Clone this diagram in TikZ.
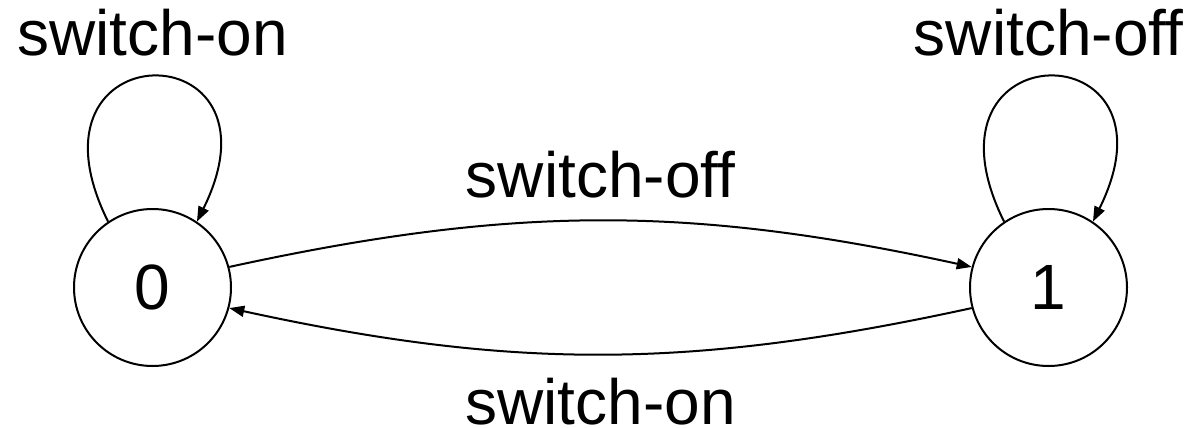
\documentclass[tikz,border=0pt]{standalone}
\usepackage{fontspec}
\setmainfont{Liberation Sans}
\usetikzlibrary{arrows.meta}
\begin{document}
\begin{tikzpicture}[x=0.5pt,y=-0.5pt,
  state/.style={draw,circle,line width=1pt,minimum size=78.5pt,inner sep=0pt,font=\fontsize{32}{38}\selectfont},
  lbl/.style={anchor=base,inner sep=0pt,font=\fontsize{32}{38}\selectfont},
  edge/.style={line width=1pt,-{Triangle[length=7.5pt,width=5.5pt]}}]
\useasboundingbox (0,0) rectangle (1189,428);
\node[state] (n0) at (152.5,287.5) {0};
\node[state] (n1) at (1048.5,287.5) {1};
\draw[edge] (n0.124) .. controls +(-95.6,-192.7) and +(95.6,-192.7) .. (n0.56);
\draw[edge] (n1.124) .. controls +(-95.6,-192.7) and +(95.6,-192.7) .. (n1.56);
\draw[edge] (n0.15) to[bend left=12.3] (n1.165);
\draw[edge] (n1.195) to[bend left=12.3] (n0.345);
\node[lbl] (l0) at (152.5,55) {switch-on};
\node[lbl] (l1) at (1048.5,55) {switch-off};
\node[lbl] (lt) at (600.5,197) {switch-off};
\node[lbl] (lb) at (600.5,424) {switch-on};
\end{tikzpicture}
\end{document}
